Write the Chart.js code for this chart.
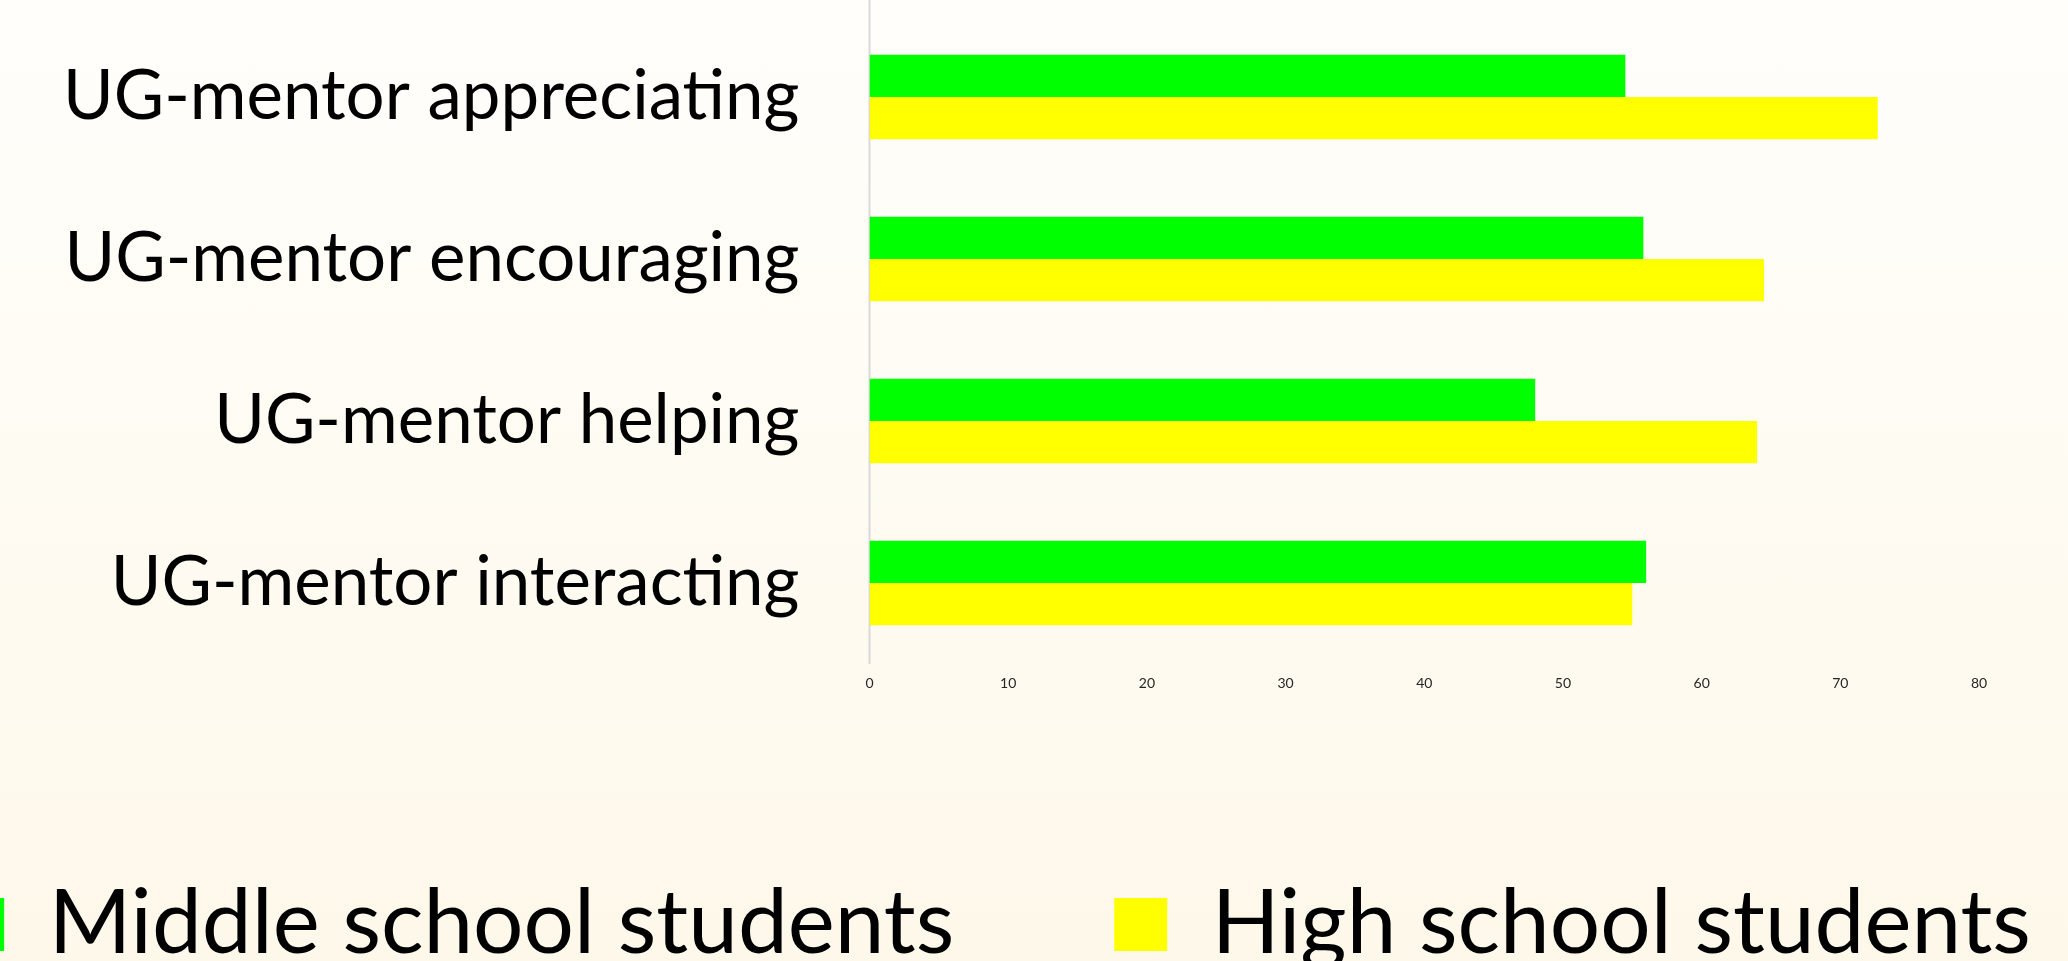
<!DOCTYPE html>
<html>
<head>
<meta charset="utf-8">
<script src="https://cdn.jsdelivr.net/npm/chart.js@4.4.1/dist/chart.umd.min.js"></script>
<style>
  html, body { margin: 0; padding: 0; width: 2068px; height: 961px; overflow: hidden; }
  body { background: linear-gradient(to bottom, #fffefb 0%, #fef8ea 100%); position: relative; }
  #myBarChart { position: absolute; top: 0; }
</style>
</head>
<body>
<canvas id="myBarChart"></canvas>
<script>
const categories = ['UG-mentor appreciating', 'UG-mentor encouraging', 'UG-mentor helping', 'UG-mentor interacting'];
const seriesNames = ['Middle school students', 'High school students'];
const middleSchool = [54.5, 55.8, 48.0, 56.0];
const highSchool = [72.7, 64.5, 64.0, 55.0];
const xTicks = [0, 10, 20, 30, 40, 50, 60, 70, 80];

// slide crop: the legend runs off the left and bottom edge, so the canvas
// is made wider than the page and shifted left
const legendSize = 89, legendBox = 53, legendGap = 160;
const zeroX = 869, eightyX = 1978.5, firstTextX = 48;

const probe = document.createElement('canvas').getContext('2d');
probe.font = legendSize + 'px Lato';
const itemW = seriesNames.map(s => legendBox + legendSize / 2 + probe.measureText(s).width);
const W = Math.ceil(itemW[0] + itemW[1] + 3 * legendGap);
const canvasLeft = firstTextX - legendSize / 2 - legendBox - legendGap;
const H = 979;

const cv = document.getElementById('myBarChart');
cv.width = W; cv.height = H;
cv.style.width = W + 'px'; cv.style.height = H + 'px';
cv.style.left = canvasLeft + 'px';

const xMax = 80 * (W + canvasLeft - zeroX) / (eightyX - zeroX);

// light grey axis line at 0, runs from the very top
const zeroLine = {
  id: 'zeroLine',
  beforeDatasetsDraw(chart) {
    const ctx = chart.ctx;
    const x = chart.scales.x.getPixelForValue(0);
    ctx.save();
    ctx.strokeStyle = '#d9d9d9';
    ctx.lineWidth = 2;
    ctx.beginPath();
    ctx.moveTo(x, 0);
    ctx.lineTo(x, chart.chartArea.bottom);
    ctx.stroke();
    ctx.restore();
  }
};

window.myBarChart = new Chart(cv.getContext('2d'), {
  type: 'bar',
  data: {
    labels: categories,
    datasets: [{
      label: seriesNames[0],
      data: middleSchool,
      backgroundColor: '#00ff00',
      borderWidth: 0
    }, {
      label: seriesNames[1],
      data: highSchool,
      backgroundColor: '#ffff00',
      borderWidth: 0
    }]
  },
  options: {
    indexAxis: 'y',
    responsive: false,
    animation: false,
    devicePixelRatio: 1,
    categoryPercentage: 0.522,
    barPercentage: 1.0,
    layout: { padding: { top: 16, right: 0, left: 0, bottom: 0 } },
    scales: {
      x: {
        min: 0,
        max: xMax,
        afterBuildTicks(scale) { scale.ticks = xTicks.map(v => ({ value: v })); },
        afterFit(scale) { scale.height = 56; },
        grid: { display: false, drawTicks: false },
        border: { display: false },
        ticks: { color: '#262626', font: { family: 'Lato', size: 14 }, padding: 11 }
      },
      y: {
        afterFit(scale) {
          scale.width = zeroX - canvasLeft;
          scale.paddingTop = 0;
          scale.paddingBottom = 0;
        },
        grid: { display: false, drawTicks: false },
        border: { display: false },
        ticks: { color: '#000000', font: { family: 'Lato', size: 69 }, padding: 70 }
      }
    },
    plugins: {
      tooltip: { enabled: false },
      legend: {
        position: 'bottom',
        labels: {
          boxWidth: legendBox,
          boxHeight: legendBox,
          padding: legendGap,
          color: '#000000',
          font: { family: 'Lato', size: legendSize }
        }
      }
    }
  },
  plugins: [zeroLine]
});
</script>
</body>
</html>
